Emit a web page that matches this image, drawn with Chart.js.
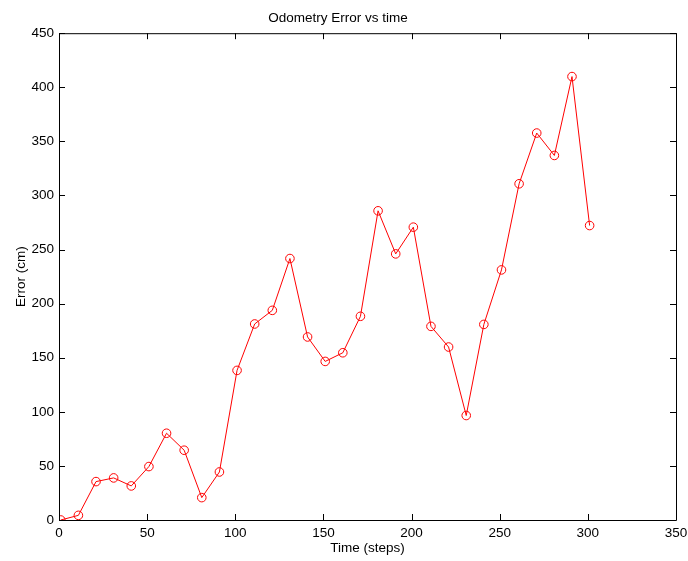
<!DOCTYPE html>
<html>
<head>
<meta charset="utf-8">
<script src="https://cdn.jsdelivr.net/npm/chart.js@4/dist/chart.umd.min.js"></script>
<style>
body{margin:0;background:#fff}
canvas{display:block}
</style>
</head>
<body>
<canvas id="errChart" width="688" height="561"></canvas>
<script>
const steps  = [1, 11, 21, 31, 41, 51, 61, 71, 81, 91, 101, 111, 121, 131, 141, 151, 161, 171, 181, 191, 201, 211, 221, 231, 241, 251, 261, 271, 281, 291, 301];
const errors = [0, 4.3, 35.5, 38.9, 31.5, 49.4, 80.2, 64.5, 20.7, 44.4, 138.3, 181.2, 193.8, 241.7, 169.2, 146.6, 154.6, 188.3, 285.8, 246, 270.7, 179, 159.9, 96.6, 180.8, 231.2, 310.8, 357.7, 337, 409.9, 272.2];
const xTicks = [0, 50, 100, 150, 200, 250, 300, 350];
const yTicks = [0, 50, 100, 150, 200, 250, 300, 350, 400, 450];

const FONT = 'Liberation Sans, Arial, Helvetica, sans-serif';
const FS = 13.5;

// box round the plot with inward ticks on all four sides
const boxTicks = {
  id: 'boxTicks',
  afterDraw(chart){
    const {ctx, chartArea: a, scales} = chart;
    const len = 6;
    ctx.save();
    ctx.strokeStyle = '#000';
    ctx.lineWidth = 1;
    ctx.beginPath();
    ctx.rect(a.left + 0.5, a.top + 0.5, a.right - a.left, a.bottom - a.top);
    scales.x.ticks.forEach(t => {
      const px = Math.round(scales.x.getPixelForValue(t.value)) + 0.5;
      ctx.moveTo(px, a.bottom); ctx.lineTo(px, a.bottom - len);
      ctx.moveTo(px, a.top); ctx.lineTo(px, a.top + len);
    });
    scales.y.ticks.forEach(t => {
      const py = Math.round(scales.y.getPixelForValue(t.value)) + 0.5;
      ctx.moveTo(a.left, py); ctx.lineTo(a.left + len, py);
      ctx.moveTo(a.right, py); ctx.lineTo(a.right - len, py);
    });
    ctx.stroke();
    ctx.restore();
  }
};

new Chart(document.getElementById('errChart'), {
  type: 'scatter',
  data: {
    datasets: [{
      data: steps.map((s, i) => ({x: s, y: errors[i]})),
      showLine: true,
      borderColor: '#ff0000',
      borderWidth: 1,
      pointStyle: 'circle',
      pointRadius: 4.3,
      pointBorderColor: '#ff0000',
      pointBackgroundColor: 'rgba(0,0,0,0)',
      pointBorderWidth: 1,
      tension: 0
    }]
  },
  options: {
    responsive: false,
    animation: false,
    layout: {padding: {left: 0, right: 12, top: 0, bottom: 0}},
    plugins: {
      legend: {display: false},
      tooltip: {enabled: false},
      title: {
        display: true,
        text: 'Odometry Error vs time',
        color: '#000',
        font: {family: FONT, size: FS, weight: 'normal'},
        padding: {top: 10, bottom: 7}
      }
    },
    scales: {
      x: {
        type: 'linear',
        min: 0, max: 350,
        afterBuildTicks: s => { s.ticks = xTicks.map(v => ({value: v})); },
        afterFit: s => { s.height = 41; s.paddingLeft = 0; s.paddingRight = 0; },
        grid: {display: false, drawTicks: false},
        border: {display: false},
        ticks: {color: '#000', padding: 5, font: {family: FONT, size: FS}, maxRotation: 0},
        title: {display: true, text: 'Time (steps)', color: '#000', font: {family: FONT, size: FS}, padding: {top: 0, bottom: 5}}
      },
      y: {
        min: 0, max: 450,
        afterBuildTicks: s => { s.ticks = yTicks.map(v => ({value: v})); },
        afterFit: s => { s.width = 59; s.paddingTop = 0; s.paddingBottom = 0; },
        grid: {display: false, drawTicks: false},
        border: {display: false},
        ticks: {color: '#000', padding: 5, font: {family: FONT, size: FS}},
        title: {display: true, text: 'Error (cm)', color: '#000', font: {family: FONT, size: FS}, padding: {top: 13, bottom: 0}}
      }
    }
  },
  plugins: [boxTicks]
});
</script>
</body>
</html>
